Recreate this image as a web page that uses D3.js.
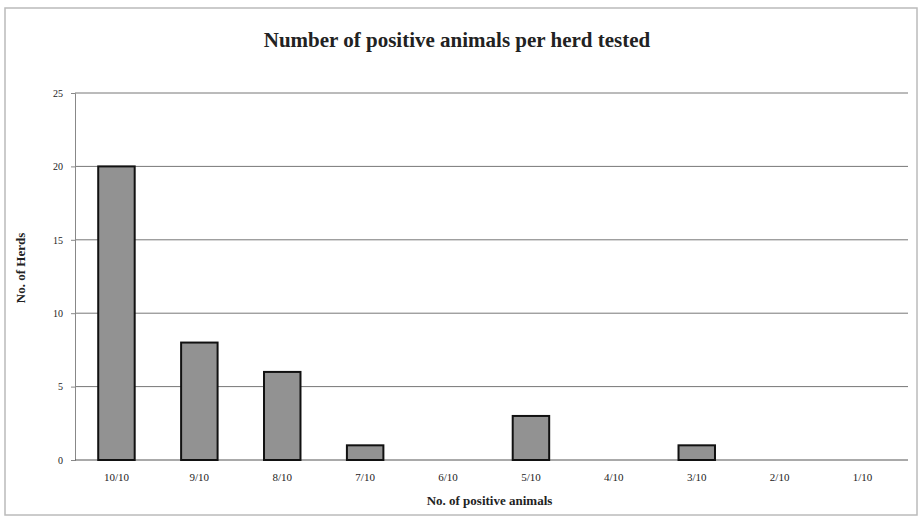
<!DOCTYPE html>
<html>
<head>
<meta charset="utf-8">
<script src="https://cdn.jsdelivr.net/npm/d3@7"></script>
<style>
  body { margin: 0; background: #fff; }
  svg text { font-family: "Liberation Serif", "DejaVu Serif", serif; fill: #222; }
</style>
</head>
<body>
<svg id="chart"></svg>
<script>
// ******************** Data ************************
var categories = ["10/10", "9/10", "8/10", "7/10", "6/10", "5/10", "4/10", "3/10", "2/10", "1/10"];
var herds = [20, 8, 6, 1, 0, 3, 0, 1, 0, 0];
var yTicks = [0, 5, 10, 15, 20, 25];

var width = 920, height = 526;
var margin = {top: 93, right: 16, bottom: 66, left: 75};

var svg = d3.select("#chart")
    .attr("width", width)
    .attr("height", height);

// outer frame like the scanned chart
svg.append("rect")
    .attr("x", 5).attr("y", 8)
    .attr("width", 912).attr("height", 507)
    .attr("fill", "none")
    .attr("stroke", "#bbb")
    .attr("stroke-width", 1.5);

var x = d3.scaleBand()
    .domain(categories)
    .range([margin.left, width - margin.right])
    .paddingInner(0.56)
    .paddingOuter(0.28);

var y = d3.scaleLinear()
    .domain([0, 25])
    .range([height - margin.bottom, margin.top]);

// gridlines
svg.append("g")
    .selectAll("line")
    .data(yTicks.filter(function (d) { return d > 0; }))
    .enter()
    .append("line")
    .attr("x1", margin.left)
    .attr("x2", width - margin.right + 4)
    .attr("y1", function (d) { return y(d); })
    .attr("y2", function (d) { return y(d); })
    .attr("stroke", "#777")
    .attr("stroke-width", 1);

// y axis
var yAxis = svg.append("g")
    .attr("transform", "translate(" + margin.left + ",0)")
    .call(d3.axisLeft(y).tickValues(yTicks).tickSize(4).tickPadding(8));
yAxis.select(".domain").attr("stroke", "#888");
yAxis.selectAll(".tick line").attr("stroke", "#888");
yAxis.selectAll("text").style("font-size", "10px").attr("fill", "#333");

// x axis
var xAxis = svg.append("g")
    .attr("transform", "translate(0," + y(0) + ")")
    .call(d3.axisBottom(x).tickSize(0).tickPadding(13).tickSizeOuter(0));
xAxis.select(".domain").attr("stroke", "#555").attr("d", "M" + margin.left + ",0H" + (width - margin.right + 4));
xAxis.selectAll("text").style("font-size", "11px").attr("fill", "#333");

// bars (zero-height bars are not drawn)
var barData = herds.map(function (v, i) { return {cat: categories[i], value: v}; })
    .filter(function (d) { return d.value > 0; });

svg.append("g")
    .selectAll("rect")
    .data(barData)
    .enter()
    .append("rect")
    .attr("x", function (d) { return x(d.cat); })
    .attr("y", function (d) { return y(d.value); })
    .attr("width", x.bandwidth())
    .attr("height", function (d) { return y(0) - y(d.value); })
    .attr("fill", "#929292")
    .attr("stroke", "#111")
    .attr("stroke-width", 2);

// title
svg.append("text")
    .attr("x", 457)
    .attr("y", 47)
    .attr("text-anchor", "middle")
    .style("font-size", "21px")
    .style("font-weight", "bold")
    .text("Number of positive animals per herd tested");

// axis labels
svg.append("text")
    .attr("x", (margin.left + width - margin.right) / 2)
    .attr("y", 505)
    .attr("text-anchor", "middle")
    .style("font-size", "13px")
    .style("font-weight", "bold")
    .text("No. of positive animals");

svg.append("text")
    .attr("transform", "translate(25,268) rotate(-90)")
    .attr("text-anchor", "middle")
    .style("font-size", "13px")
    .style("font-weight", "bold")
    .text("No. of Herds");
</script>
</body>
</html>
